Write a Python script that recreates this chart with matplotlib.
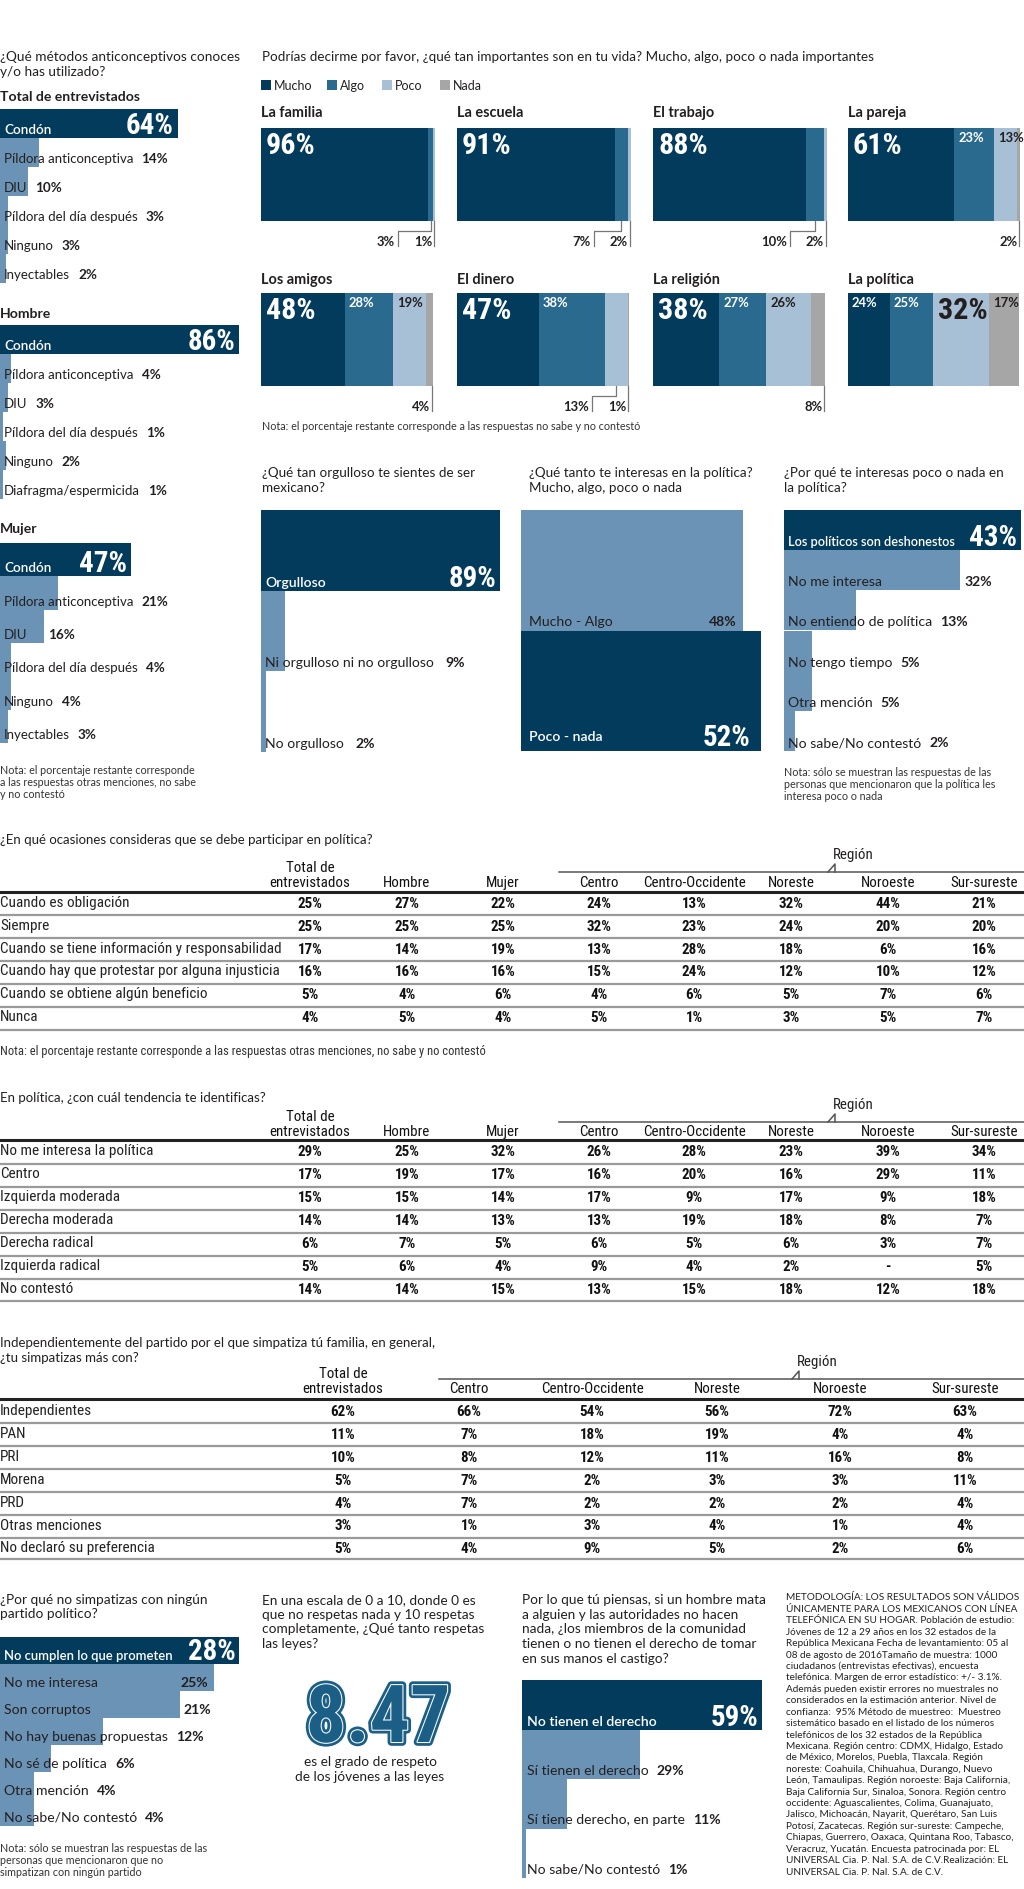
import os
import matplotlib
matplotlib.use('Agg')
import matplotlib.pyplot as plt
import matplotlib.patheffects as pe
from matplotlib import font_manager as fm
from matplotlib.patches import Rectangle

# ------------------------------------------------------------------ DATA
MET_Q = ['¿Qué métodos anticonceptivos conoces', 'y/o has utilizado?']
MET_GROUPS = ['Total de entrevistados', 'Hombre', 'Mujer']
MET_TOTAL_LABELS = ['Condón', 'Píldora anticonceptiva', 'DIU', 'Píldora del día después', 'Ninguno', 'Inyectables']
MET_TOTAL_VALUES = [64, 14, 10, 3, 3, 2]
MET_HOMBRE_LABELS = ['Condón', 'Píldora anticonceptiva', 'DIU', 'Píldora del día después', 'Ninguno', 'Diafragma/espermicida']
MET_HOMBRE_VALUES = [86, 4, 3, 1, 2, 1]
MET_MUJER_LABELS = ['Condón', 'Píldora anticonceptiva', 'DIU', 'Píldora del día después', 'Ninguno', 'Inyectables']
MET_MUJER_VALUES = [47, 21, 16, 4, 4, 3]
MET_NOTE = ['Nota: el porcentaje restante corresponde', 'a las respuestas otras menciones, no sabe', 'y no contestó']

IMP_Q = 'Podrías decirme por favor, ¿qué tan importantes son en tu vida? Mucho, algo, poco o nada importantes'
IMP_LEVELS = ['Mucho', 'Algo', 'Poco', 'Nada']
IMP_ITEMS = ['La familia', 'La escuela', 'El trabajo', 'La pareja', 'Los amigos', 'El dinero', 'La religión', 'La política']
IMP_MUCHO = [96, 91, 88, 61, 48, 47, 38, 24]
IMP_ALGO = [3, 7, 10, 23, 28, 38, 27, 25]
IMP_POCO = [1, 2, 2, 13, 19, 13, 26, 32]
IMP_NADA = [0, 0, 0, 2, 4, 1, 8, 17]
IMP_NOTE = 'Nota: el porcentaje restante corresponde a las respuestas no sabe y no contestó'

ORG_Q = ['¿Qué tan orgulloso te sientes de ser', 'mexicano?']
ORG_LABELS = ['Orgulloso', 'Ni orgulloso ni no orgulloso', 'No orgulloso']
ORG_VALUES = [89, 9, 2]

INT_Q = ['¿Qué tanto te interesas en la política?', 'Mucho, algo, poco o nada']
INT_LABELS = ['Mucho - Algo', 'Poco - nada']
INT_VALUES = [48, 52]

RAZ_Q = ['¿Por qué te interesas poco o nada en', 'la política?']
RAZ_LABELS = ['Los políticos son deshonestos', 'No me interesa', 'No entiendo de política',
              'No tengo tiempo', 'Otra mención', 'No sabe/No contestó']
RAZ_VALUES = [43, 32, 13, 5, 5, 2]
RAZ_NOTE = ['Nota: sólo se muestran las respuestas de las', 'personas que mencionaron que la política les',
            'interesa poco o nada']

T1_Q = '¿En qué ocasiones consideras que se debe participar en política?'
T1_COLS = ['Total de\nentrevistados', 'Hombre', 'Mujer', 'Centro', 'Centro-Occidente', 'Noreste', 'Noroeste', 'Sur-sureste']
T1_ROWS = ['Cuando es obligación', 'Siempre', 'Cuando se tiene información y responsabilidad',
           'Cuando hay que protestar por alguna injusticia', 'Cuando se obtiene algún beneficio', 'Nunca']
T1_VALS = [[25, 27, 22, 24, 13, 32, 44, 21],
           [25, 25, 25, 32, 23, 24, 20, 20],
           [17, 14, 19, 13, 28, 18, 6, 16],
           [16, 16, 16, 15, 24, 12, 10, 12],
           [5, 4, 6, 4, 6, 5, 7, 6],
           [4, 5, 4, 5, 1, 3, 5, 7]]
T1_NOTE = 'Nota: el porcentaje restante corresponde a las respuestas otras menciones, no sabe y no contestó'

T2_Q = 'En política, ¿con cuál tendencia te identificas?'
T2_COLS = T1_COLS
T2_ROWS = ['No me interesa la política', 'Centro', 'Izquierda moderada', 'Derecha moderada',
           'Derecha radical', 'Izquierda radical', 'No contestó']
T2_VALS = [[29, 25, 32, 26, 28, 23, 39, 34],
           [17, 19, 17, 16, 20, 16, 29, 11],
           [15, 15, 14, 17, 9, 17, 9, 18],
           [14, 14, 13, 13, 19, 18, 8, 7],
           [6, 7, 5, 6, 5, 6, 3, 7],
           [5, 6, 4, 9, 4, 2, None, 5],
           [14, 14, 15, 13, 15, 18, 12, 18]]

T3_Q = ['Independientemente del partido por el que simpatiza tú familia, en general,', '¿tu simpatizas más con?']
T3_COLS = ['Total de\nentrevistados', 'Centro', 'Centro-Occidente', 'Noreste', 'Noroeste', 'Sur-sureste']
T3_ROWS = ['Independientes', 'PAN', 'PRI', 'Morena', 'PRD', 'Otras menciones', 'No declaró su preferencia']
T3_VALS = [[62, 66, 54, 56, 72, 63],
           [11, 7, 18, 19, 4, 4],
           [10, 8, 12, 11, 16, 8],
           [5, 7, 2, 3, 3, 11],
           [4, 7, 2, 2, 2, 4],
           [3, 1, 3, 4, 1, 4],
           [5, 4, 9, 5, 2, 6]]

SIM_Q = ['¿Por qué no simpatizas con ningún', 'partido político?']
SIM_LABELS = ['No cumplen lo que prometen', 'No me interesa', 'Son corruptos', 'No hay buenas propuestas',
              'No sé de política', 'Otra mención', 'No sabe/No contestó']
SIM_VALUES = [28, 25, 21, 12, 6, 4, 4]
SIM_NOTE = ['Nota: sólo se muestran las respuestas de las', 'personas que mencionaron que no',
            'simpatizan con ningún partido']

LEY_Q = ['En una escala de 0 a 10, donde 0 es', 'que no respetas nada y 10 respetas',
         'completamente, ¿Qué tanto respetas', 'las leyes?']
LEY_VALUE = 8.47
LEY_CAPTION = ['es el grado de respeto', 'de los jóvenes a las leyes']

CAS_Q = ['Por lo que tú piensas, si un hombre mata', 'a alguien y las autoridades no hacen',
         'nada, ¿los miembros de la comunidad', 'tienen o no tienen el derecho de tomar',
         'en sus manos el castigo?']
CAS_LABELS = ['No tienen el derecho', 'Sí tienen el derecho', 'Sí tiene derecho, en parte', 'No sabe/No contestó']
CAS_VALUES = [59, 29, 11, 1]

METODO = [
    'METODOLOGÍA: LOS RESULTADOS SON VÁLIDOS',
    'ÚNICAMENTE PARA LOS MEXICANOS CON LÍNEA',
    'TELEFÓNICA EN SU HOGAR. Población de estudio:',
    'Jóvenes de 12 a 29 años en los 32 estados de la',
    'República Mexicana Fecha de levantamiento: 05 al',
    '08 de agosto de 2016Tamaño de muestra: 1000',
    'ciudadanos (entrevistas efectivas), encuesta',
    'telefónica. Margen de error estadístico: +/- 3.1%.',
    'Además pueden existir errores no muestrales no',
    'considerados en la estimación anterior. Nivel de',
    'confianza:  95% Método de muestreo:  Muestreo',
    'sistemático basado en el listado de los números',
    'telefónicos de los 32 estados de la República',
    'Mexicana. Región centro: CDMX, Hidalgo, Estado',
    'de México, Morelos, Puebla, Tlaxcala. Región',
    'noreste: Coahuila, Chihuahua, Durango, Nuevo',
    'León, Tamaulipas. Región noroeste: Baja California,',
    'Baja California Sur, Sinaloa, Sonora. Región centro',
    'occidente: Aguascalientes, Colima, Guanajuato,',
    'Jalisco, Michoacán, Nayarit, Querétaro, San Luis',
    'Potosí, Zacatecas. Región sur-sureste: Campeche,',
    'Chiapas, Guerrero, Oaxaca, Quintana Roo, Tabasco,',
    'Veracruz, Yucatán. Encuesta patrocinada por: EL',
    'UNIVERSAL Cia. P. Nal. S.A. de C.V.Realización: EL',
    'UNIVERSAL Cia. P. Nal. S.A. de C.V.',
]

# ------------------------------------------------------------------ STYLE
W, H = 1024, 1889
DARK = '#033b5d'
ALGO = '#2b6a8f'
POCO = '#a8c0d5'
NADA = '#a6a6a6'
LIGHT = '#6b93b6'
INK = '#231f20'
TEAL = '#1c5f86'
IMP_COLORS = [DARK, ALGO, POCO, NADA]
BODY = ['Lato', 'Open Sans', 'DejaVu Sans']


def find_font(names, generic_bold):
    files = [f.fname for f in fm.fontManager.ttflist]
    for n in names:
        for p in files:
            if os.path.basename(p).lower() == n.lower():
                return p
    for p in files:
        b = os.path.basename(p).lower()
        if ('narrow' in b or 'condensed' in b) and 'italic' not in b and 'oblique' not in b:
            if generic_bold and 'bold' in b and 'semi' not in b and 'extra' not in b:
                return p
            if not generic_bold and 'bold' not in b and 'light' not in b and 'thin' not in b \
                    and 'medium' not in b and 'black' not in b and 'semi' not in b:
                return p
    return None


COND_B = find_font(['LiberationSansNarrow-Bold.ttf', 'RobotoCondensed-Bold.ttf',
                    'NotoSans-ExtraCondensedBold.ttf', 'NotoSans-CondensedBold.ttf',
                    'DejaVuSansCondensed-Bold.ttf'], True)
COND_R = find_font(['LiberationSansNarrow-Regular.ttf', 'RobotoCondensed-Regular.ttf',
                    'NotoSans-Condensed.ttf', 'NotoSans-CondensedRegular.ttf',
                    'DejaVuSansCondensed.ttf'], False)


def P(kind, size):
    pt = size * 0.72
    if kind == 'cb':
        if COND_B:
            return fm.FontProperties(fname=COND_B, size=pt)
        return fm.FontProperties(family=['Roboto', 'DejaVu Sans'], weight='bold', size=pt)
    if kind == 'cr':
        if COND_R:
            return fm.FontProperties(fname=COND_R, size=pt)
        return fm.FontProperties(family=['Roboto', 'DejaVu Sans'], size=pt)
    w = {'r': 'normal', 'b': 'bold', 'sb': 'semibold'}[kind]
    return fm.FontProperties(family=BODY, weight=w, size=pt)


fig = plt.figure(figsize=(W / 100, H / 100), dpi=100)
fig.patch.set_facecolor('white')
cv = fig.add_axes([0, 0, 1, 1])
cv.set_xlim(0, W)
cv.set_ylim(H, 0)
cv.axis('off')
renderer = fig.canvas.get_renderer()


def T(x, y, s, kind='r', size=13, color=INK, ha='left', va='center', **kw):
    return fig.text(x / W, 1 - y / H, s, fontproperties=P(kind, size), color=color, ha=ha, va=va, **kw)


def tw(t):
    return t.get_window_extent(renderer).width


def to_px(ax, x, y):
    X, Y = ax.transData.transform((x, y))
    return X, H - Y


def lines(x, y0, txts, pitch, kind='r', size=13, **kw):
    for i, s in enumerate(txts):
        T(x, y0 + i * pitch, s, kind, size, **kw)


def hbar(x0, y0, y1, scale, labels, values, colors=None, lab_off=4, lab_size=13.5, val_size=14,
         pad=4, big_size=29, big_off=4, gap=8, dark_pad=None, dark_size=None):
    n = len(values)
    xmax = max(values)
    ax = fig.add_axes([x0 / W, 1 - y1 / H, xmax * scale / W, (y1 - y0) / H])
    cols = colors or [DARK] + [LIGHT] * (n - 1)
    ax.barh([i + 0.5 for i in range(n)], values, height=1.0, color=cols, edgecolor='none')
    ax.set_xlim(0, xmax)
    ax.set_ylim(n, 0)
    ax.axis('off')
    for i, (lab, v) in enumerate(zip(labels, values)):
        ex, by = to_px(ax, v, i + 1)
        base = by - pad
        if cols[i] == DARK:
            lb = by - (dark_pad if dark_pad is not None else pad)
            T(x0 + lab_off, lb, lab, 'sb', dark_size or lab_size, 'white', va='baseline')
            T(ex - big_off, base, f'{v}%', 'cb', big_size, 'white', ha='right', va='baseline')
        else:
            t = T(x0 + lab_off, base, lab, 'r', lab_size, INK, va='baseline')
            tend = x0 + lab_off + tw(t)
            if ex - tend > 100:
                T(ex - 6, base, f'{v}%', 'b', val_size, INK, ha='right', va='baseline')
            else:
                T(max(tend + gap, ex + 4), base, f'{v}%', 'b', val_size, INK, va='baseline')
    return ax


# ------------------------------------------------------------------ SECTION 1: contraceptives
lines(0, 57, MET_Q, 14.5, 'r', 13.6)
groups = [(MET_TOTAL_LABELS, MET_TOTAL_VALUES, 97, 109, 283),
          (MET_HOMBRE_LABELS, MET_HOMBRE_VALUES, 314, 325, 499),
          (MET_MUJER_LABELS, MET_MUJER_VALUES, 529, 543, 743)]
for g, (labs, vals, ty, y0, y1) in zip(MET_GROUPS, groups):
    T(0, ty, g, 'b', 14)
    hbar(0, y0, y1, 2.78, labs, vals, lab_size=13.3, val_size=13.5, pad=4, dark_size=13.5)
lines(0, 771, MET_NOTE, 12, 'r', 10.8, color='#333')

# ------------------------------------------------------------------ SECTION 1: importance
T(262, 57, IMP_Q, 'r', 13.5)
for x, lab, c in zip([261, 327, 382, 440], IMP_LEVELS, IMP_COLORS):
    cv.add_patch(Rectangle((x, 80), 10, 10, color=c, lw=0))
    T(x + 13, 85.5, lab, 'r', 12.5)

SM_X = [261, 457, 653, 848]
SM_W = 174
SM_TOP = [128, 293]
SM_TITLE = [113, 280]
BAR_H = 93
CALLOUTS = {0: [1, 2], 1: [1, 2], 2: [1, 2], 3: [3], 4: [3], 5: [2, 3], 6: [3], 7: []}


def p2(p):
    return p * 100.0 / SM_W


for k, item in enumerate(IMP_ITEMS):
    col, row = k % 4, k // 4
    x0, top = SM_X[col], SM_TOP[row]
    T(x0, SM_TITLE[row], item, 'b', 14.5)
    ax = fig.add_axes([x0 / W, 1 - (top + 125) / H, SM_W / W, 125 / H])
    segs = [IMP_MUCHO[k], IMP_ALGO[k], IMP_POCO[k], IMP_NADA[k]]
    lefts = [sum(segs[:i]) for i in range(4)]
    ax.barh([BAR_H / 2] * 4, segs, left=lefts, height=BAR_H, color=IMP_COLORS, edgecolor='none')
    ax.set_xlim(0, 100)
    ax.set_ylim(125, 0)
    ax.axis('off')
    big = segs.index(max(segs))
    cl = CALLOUTS[k]
    for i, v in enumerate(segs):
        if v == 0 or i in cl:
            continue
        c = 'white' if i < 2 else INK
        if i == big:
            ax.text(lefts[i] + p2(5), 26, f'{v}%', fontproperties=P('cb', 30), color=c, va='baseline')
        else:
            ax.text(lefts[i] + p2(4), 14.5, f'{v}%', fontproperties=P('b', 13), color=c, va='baseline')
    B = BAR_H
    if cl:
        last = cl[-1]
        xl = lefts[last] + segs[last] - p2(1)
        ax.plot([xl, xl], [B, B + 25], color='#777', lw=0.9, clip_on=False)
        ax.text(xl - p2(2), B + 25, f'{segs[last]}%', fontproperties=P('b', 13), color=INK,
                ha='right', va='baseline', clip_on=False)
        if len(cl) > 1:
            f = cl[0]
            xc = lefts[f] + segs[f] / 2
            xb = xl - p2(36)
            ax.plot([xc, xc, xb, xb], [B, B + 10, B + 10, B + 25], color='#777', lw=0.9, clip_on=False)
            ax.text(xb - p2(3), B + 25, f'{segs[f]}%', fontproperties=P('b', 13), color=INK,
                    ha='right', va='baseline', clip_on=False)
T(262, 427, IMP_NOTE, 'r', 10.8, color='#333')

# ------------------------------------------------------------------ SECTION 2
lines(262, 473, ORG_Q, 15, 'r', 13.5)
hbar(261, 510, 752, 2.69, ORG_LABELS, ORG_VALUES, lab_size=14, val_size=14, pad=4, gap=12)

lines(529, 473, INT_Q, 15, 'r', 13.5)
hbar(521, 510, 751, 4.62, INT_LABELS, INT_VALUES, colors=[LIGHT, DARK], lab_off=8,
     lab_size=14, val_size=14, pad=5, big_off=11, dark_pad=10)

lines(784, 473, RAZ_Q, 15, 'r', 13.5)
hbar(784, 510, 751, 5.51, RAZ_LABELS, RAZ_VALUES, lab_size=14, val_size=14, pad=4, dark_size=12.8)
lines(784, 772, RAZ_NOTE, 12.5, 'r', 10.8, color='#333')


# ------------------------------------------------------------------ TABLES
def table(q, q_y, cols, col_x, rows, vals, reg_x0, reg_lab_x, reg_lab_y, reg_line_y,
          hdr_y, thick_y, row_y0, pitch, bottom_y):
    for i, s in enumerate(q):
        T(0, q_y + i * 14.5, s, 'r', 13.3)
    T(reg_lab_x, reg_lab_y, 'Región', 'cr', 15, ha='center')
    cv.plot([reg_x0, W], [reg_line_y, reg_line_y], color='#555', lw=1.1)
    tx = reg_lab_x - 18
    cv.plot([tx - 7, tx, tx], [reg_line_y, reg_line_y - 8, reg_line_y], color='#555', lw=1.1)
    for c, x in zip(cols, col_x):
        parts = c.split('\n')
        for j, part in enumerate(reversed(parts)):
            T(x, hdr_y - j * 15, part, 'cr', 15, color='#111', ha='center')
    cv.plot([0, W], [thick_y, thick_y], color='#222', lw=2.2)
    for i, (r, vs) in enumerate(zip(rows, vals)):
        y = row_y0 + i * pitch
        T(0, y - 1, r, 'cr', 15.2, color='#222')
        for v, x in zip(vs, col_x):
            T(x, y, '-' if v is None else f'{v}%', 'cb', 15, color='#111', ha='center')
        ly = y + pitch / 2 if i < len(rows) - 1 else bottom_y
        cv.plot([0, W], [ly, ly], color='#9a9a9a', lw=1.6)


T1_X = [310, 407, 503, 599, 694, 791, 888, 984]
table([T1_Q], 840, T1_COLS, T1_X, T1_ROWS, T1_VALS, 559, 853, 855, 872, 883, 892, 904, 22.8, 1030)
T(0, 1052, T1_NOTE, 'cr', 12.5, color='#333')

table([T2_Q], 1098, T2_COLS, T1_X, T2_ROWS, T2_VALS, 559, 853, 1105, 1122, 1132, 1140, 1152, 23, 1301)

T3_X = [343, 469, 592, 717, 840, 965]
table(T3_Q, 1343, T3_COLS, T3_X, T3_ROWS, T3_VALS, 439, 817, 1362, 1379, 1389, 1399, 1412, 22.9, 1559)

# ------------------------------------------------------------------ BOTTOM
lines(0, 1600, SIM_Q, 14.5, 'r', 13.6)
hbar(0, 1637, 1826, 8.55, SIM_LABELS, SIM_VALUES, lab_size=14, val_size=14, pad=4, dark_size=13)
lines(0, 1848, SIM_NOTE, 12.3, 'r', 10.8, color='#333')

lines(262, 1600, LEY_Q, 14.7, 'r', 13.6)
T(378, 1742, f'{LEY_VALUE:.2f}', 'cb', 80, color=TEAL, ha='center', va='baseline',
  path_effects=[pe.Stroke(linewidth=5.5, foreground=TEAL), pe.Stroke(linewidth=1.5, foreground='white'),
                pe.Normal()])
for i, s in enumerate(LEY_CAPTION):
    T(370, 1762 + i * 15, s, 'r', 13.6, ha='center')

lines(522, 1600, CAS_Q, 14.7, 'r', 13.6)
hbar(522, 1680, 1878, 4.07, CAS_LABELS, CAS_VALUES, lab_off=5, lab_size=14, val_size=14, pad=4)

lines(786, 1598, METODO, 11.42, 'r', 10, color='#222')

fig.savefig('out.png', dpi=100, facecolor='white')
